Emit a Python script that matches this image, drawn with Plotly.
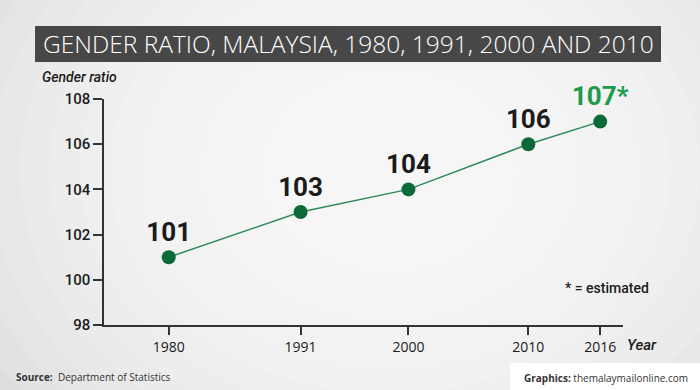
import plotly.graph_objects as go

years = [1980, 1991, 2000, 2010, 2016]
gender_ratio = [101, 103, 104, 106, 107]
estimated = [False, False, False, False, True]
y_ticks = [98, 100, 102, 104, 106, 108]

title_text = "GENDER RATIO, MALAYSIA, 1980, 1991, 2000 AND 2010"

W, H = 700, 390
L, R, T, B = 104, 77, 99, 65
pw, ph = W - L - R, H - T - B


def px(x):
    return (x - L) / pw


def py(y):
    return (H - B - y) / ph


labels = [f"{v}*" if e else f"{v}" for v, e in zip(gender_ratio, estimated)]
label_colors = ["#1e9a4c" if e else "#1b1b1b" for e in estimated]

fig = go.Figure()
fig.add_trace(go.Scatter(
    x=years, y=gender_ratio,
    mode="lines+markers+text",
    line=dict(color="#2f8a5a", width=1.5),
    marker=dict(color="#0c6a39", size=14),
    text=labels,
    textposition="top center",
    textfont=dict(family="Roboto", size=26, color=label_colors, weight=700),
    cliponaxis=False,
    hoverinfo="skip",
))

shapes = []
# soft radial background
radii = [460, 430, 400, 370, 340, 310, 280, 250, 220, 190, 160, 130]
for r in radii:
    cx, cy = 390, 170
    shapes.append(dict(type="circle", xref="paper", yref="paper",
                       x0=px(cx - r), x1=px(cx + r), y0=py(cy + r * 0.8), y1=py(cy - r * 0.8),
                       fillcolor="white", opacity=0.13, line=dict(width=0), layer="below"))
# title banner
shapes.append(dict(type="rect", xref="paper", yref="paper",
                   x0=px(35), x1=px(661), y0=py(62), y1=py(26),
                   fillcolor="#474747", line=dict(width=0), layer="below"))
# graphics box
shapes.append(dict(type="rect", xref="paper", yref="paper",
                   x0=px(510), x1=px(705), y0=py(395), y1=py(363),
                   fillcolor="white", line=dict(width=0), layer="below"))

annotations = [
    dict(text=title_text, xref="paper", yref="paper", x=px(348), y=py(44),
         xanchor="center", yanchor="middle", showarrow=False,
         font=dict(family="Open Sans", size=24.5, color="white", weight=300)),
    dict(text="<i>Gender ratio</i>", xref="paper", yref="paper", x=px(40), y=py(77),
         xanchor="left", yanchor="middle", showarrow=False,
         font=dict(family="Roboto", size=14, color="#1b1b1b", weight=500)),
    dict(text="<i>Year</i>", xref="paper", yref="paper", x=px(625), y=py(345),
         xanchor="left", yanchor="middle", showarrow=False,
         font=dict(family="Roboto", size=15, color="#1b1b1b", weight=500)),
    dict(text="* = estimated", xref="paper", yref="paper", x=px(563), y=py(288),
         xanchor="left", yanchor="middle", showarrow=False,
         font=dict(family="Roboto", size=14, color="#1b1b1b", weight=500)),
    dict(text="<b>Source:</b>  Department of Statistics", xref="paper", yref="paper",
         x=px(14), y=py(377), xanchor="left", yanchor="middle", showarrow=False,
         font=dict(family="Open Sans", size=10, color="#333333")),
    dict(text="<b>Graphics:</b> themalaymailonline.com", xref="paper", yref="paper",
         x=px(522), y=py(378), xanchor="left", yanchor="middle", showarrow=False,
         font=dict(family="Open Sans", size=10, color="#333333")),
]

fig.update_layout(
    width=W, height=H,
    margin=dict(l=L, r=R, t=T, b=B),
    paper_bgcolor="#dedede",
    plot_bgcolor="rgba(0,0,0,0)",
    showlegend=False,
    shapes=shapes,
    annotations=annotations,
    xaxis=dict(range=[1974.6, 2017.9], tickvals=years, ticktext=[str(y) for y in years],
               showgrid=False, zeroline=False, showline=True, linecolor="#333333", linewidth=1.5,
               ticks="outside", ticklen=8, tickwidth=1.5, tickcolor="#333333",
               tickfont=dict(family="Open Sans", size=14, color="#1b1b1b")),
    yaxis=dict(range=[98, 108], tickvals=y_ticks,
               showgrid=False, zeroline=False, showline=True, linecolor="#333333", linewidth=1.5,
               ticks="outside", ticklen=9, tickwidth=1.5, tickcolor="#333333",
               tickfont=dict(family="Roboto", size=15, color="#1b1b1b", weight=500)),
)

fig.write_html("out.html", config={"displayModeBar": False},
               post_script="document.body.style.margin='0';")
